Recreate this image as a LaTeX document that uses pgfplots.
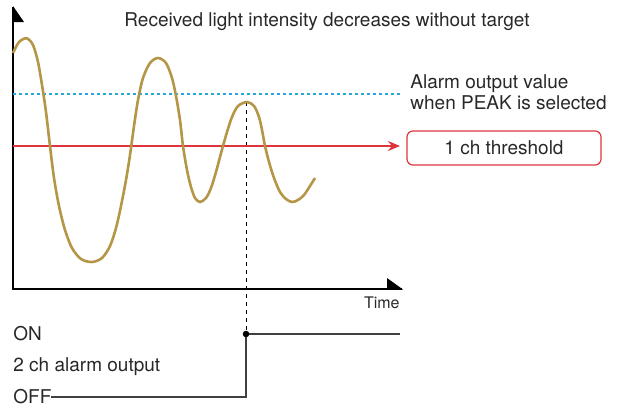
\documentclass[border=0pt]{standalone}
\usepackage{fontspec}
\setmainfont{TeX Gyre Heros}
\usepackage{pgfplots}
\pgfplotsset{compat=1.18}
\usetikzlibrary{arrows.meta}
\definecolor{wave}{RGB}{181,150,70}
\definecolor{thr}{RGB}{222,52,60}
\definecolor{peak}{RGB}{40,165,225}
\definecolor{txt}{RGB}{40,40,40}
\begin{document}
\begin{tikzpicture}
\begin{axis}[scale only axis, width=312pt, height=204pt,
  xmin=0, xmax=624, ymin=0, ymax=408, y dir=reverse,
  hide axis, clip=false]
\path (axis cs:0,0) rectangle (axis cs:624,408);
% axes
\draw[black, line width=0.7pt] (axis cs:13,7) -- (axis cs:13,289) -- (axis cs:402,289);
\fill[black] (axis cs:13,6) -- (axis cs:24,22) -- (axis cs:13,22) -- cycle;
\fill[black] (axis cs:387,278) -- (axis cs:387,289.5) -- (axis cs:403,289.5) -- cycle;
% peak level (blue dotted)
\addplot[peak, line width=0.6pt, dash pattern=on 1.5pt off 1.5pt] coordinates {(13,94) (400,94)};
% dotted vertical
\addplot[black, line width=0.5pt, dash pattern=on 2pt off 2pt] coordinates {(246,102) (246,334)};
% threshold
\addplot[thr, line width=1pt, -{Stealth[length=6pt,width=5pt]}] coordinates {(13,146) (400,146)};
% wave
\addplot[wave, line width=1.3pt, smooth] coordinates {
(13,53) (19,42) (26.7,38.3) (33,45) (38,62) (42,85) (46,112) (50,146) (54,178) (59,206) (65,230)
(72,248) (81,259) (92,262) (102,258) (110,246) (116,228) (121,206) (126,180) (130,155) (134,126)
(138,100) (143,78) (150,63) (158,58) (166,63) (172,78) (176,96) (180,120) (183,146) (187,170)
(191,187) (195,198) (200,202) (206,198) (211,188) (216,172) (220,157) (223,146) (227,132) (232,117)
(238,106) (247,102) (254,106) (259,117) (262,130) (265,146) (269,162) (274,178) (280,192) (286,199)
(292,202) (298,200) (304,195) (310,186) (315,178)};
% alarm output step
\addplot[black!75, line width=0.6pt] coordinates {(51,397) (246,397) (246,334) (400,334)};
\addplot[only marks, mark=*, mark size=1.4pt, black] coordinates {(246,334)};
% box
\draw[thr, line width=0.6pt, rounded corners=3pt] (axis cs:407,131) rectangle (axis cs:601,165);
% texts
\node[txt, font=\fontsize{9.5}{11}\selectfont] at (axis cs:327,22) {Received light intensity decreases without target};
\node[txt, anchor=west, font=\fontsize{9.5}{10.5}\selectfont, align=left, inner sep=0pt] at (axis cs:410,92) {Alarm output value\\when PEAK is selected};
\node[txt, font=\fontsize{9.5}{11}\selectfont] at (axis cs:504,148) {1 ch threshold};
\node[txt, anchor=east, font=\fontsize{8}{9}\selectfont, inner sep=0pt] at (axis cs:400,303) {Time};
\node[txt, anchor=west, font=\fontsize{9.5}{11}\selectfont, inner sep=0pt] at (axis cs:13,334) {ON};
\node[txt, anchor=west, font=\fontsize{9.5}{11}\selectfont, inner sep=0pt] at (axis cs:13,367) {2 ch alarm output};
\node[txt, anchor=west, font=\fontsize{9.5}{11}\selectfont, inner sep=0pt] at (axis cs:13,397) {OFF};
\end{axis}
\end{tikzpicture}
\end{document}
